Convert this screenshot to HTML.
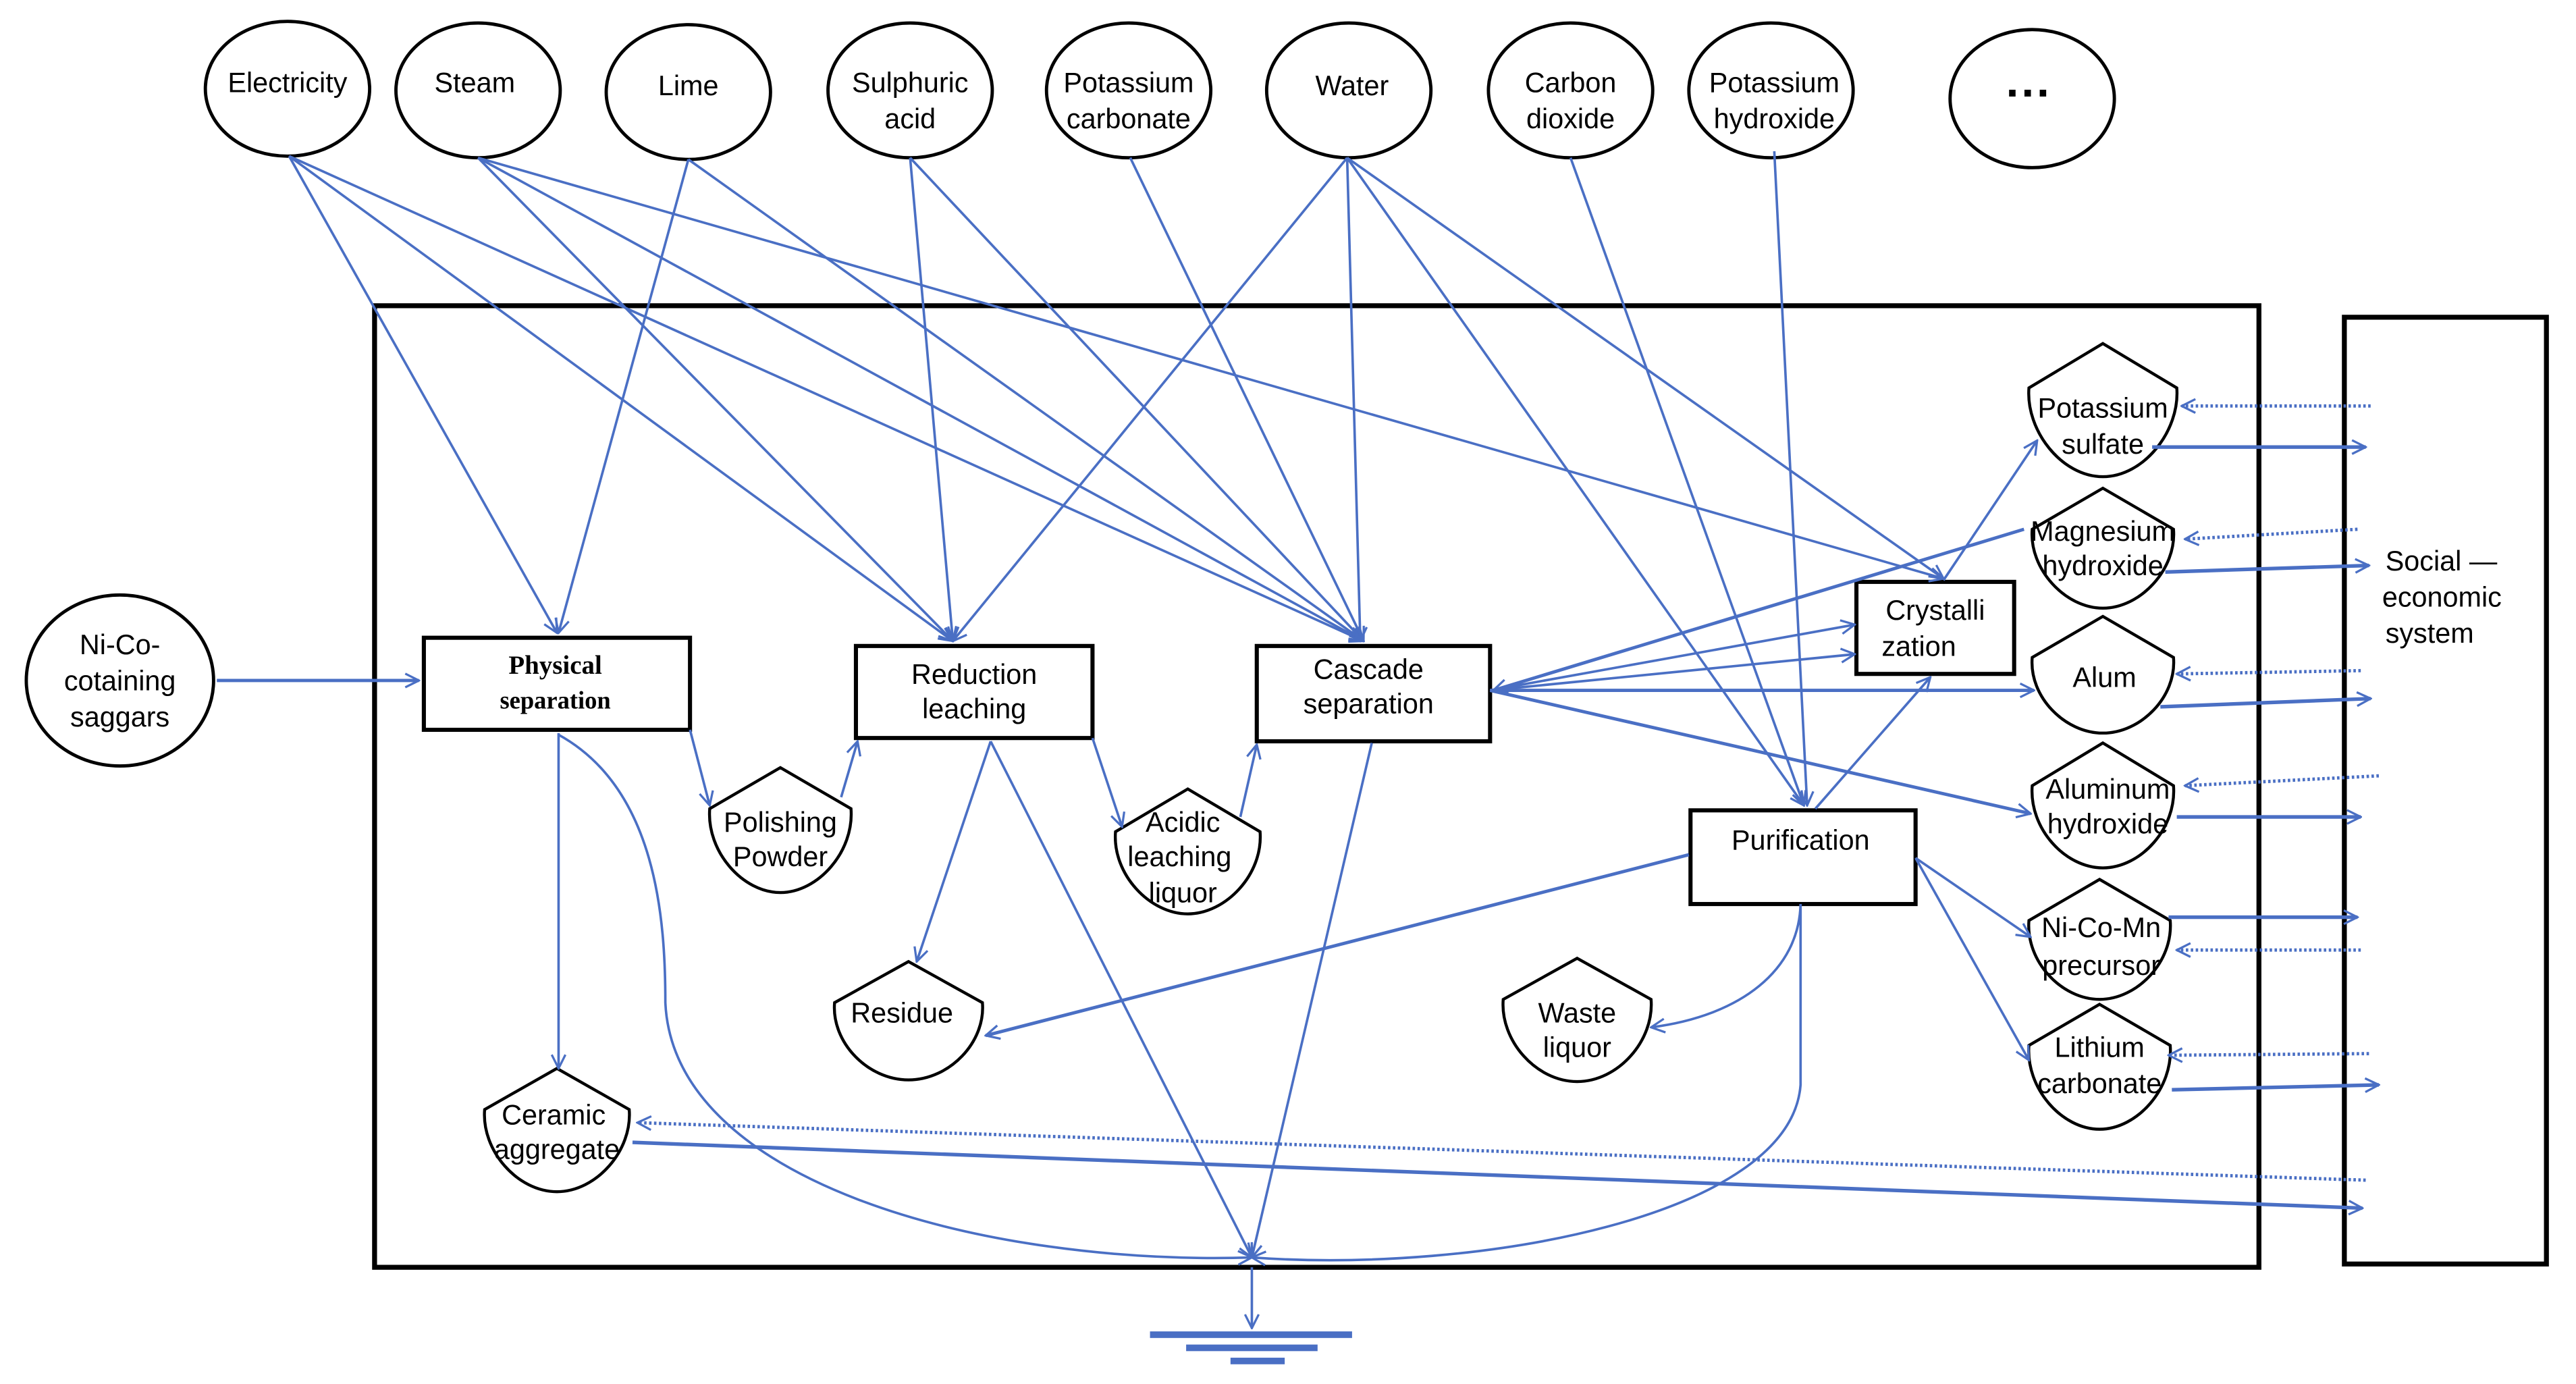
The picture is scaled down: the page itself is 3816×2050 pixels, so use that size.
<!DOCTYPE html>
<html><head><meta charset="utf-8"><style>html,body{margin:0;padding:0;background:#fff}svg{display:block}</style></head>
<body>
<svg width="3816" height="2050" viewBox="0 0 1568 842" preserveAspectRatio="none" xmlns="http://www.w3.org/2000/svg" font-family="Liberation Sans, sans-serif">
<defs>
<marker id="a" viewBox="0 0 12 12" refX="11" refY="6" markerWidth="10" markerHeight="10" markerUnits="userSpaceOnUse" orient="auto">
<path d="M1,1 L11,6 L1,11" fill="none" stroke="#4a6fc4" stroke-width="1.6"/></marker>
</defs>
<rect width="1568" height="842" fill="#fff"/>
<g fill="none" stroke="#000" stroke-width="2">
<ellipse cx="175" cy="54" rx="50" ry="41"/>
<ellipse cx="291" cy="55" rx="50" ry="41"/>
<ellipse cx="419" cy="56" rx="50" ry="41"/>
<ellipse cx="554" cy="55" rx="50" ry="41"/>
<ellipse cx="687" cy="55" rx="50" ry="41"/>
<ellipse cx="821" cy="55" rx="50" ry="41"/>
<ellipse cx="956" cy="55" rx="50" ry="41"/>
<ellipse cx="1078" cy="55" rx="50" ry="41"/>
<ellipse cx="1237" cy="60" rx="50" ry="42"/>
<ellipse cx="73" cy="414" rx="57" ry="52"/>
</g>
<rect x="228" y="186" width="1147" height="585" fill="none" stroke="#000" stroke-width="3"/>
<rect x="1427" y="193" width="123" height="576" fill="none" stroke="#000" stroke-width="3"/>
<g fill="#fff" stroke="#000" stroke-width="2.5">
<rect x="258" y="388" width="162" height="56"/>
<rect x="521" y="393" width="144" height="56"/>
<rect x="765" y="393" width="142" height="58"/>
<rect x="1130" y="354" width="96" height="56"/>
<rect x="1029" y="493" width="137" height="57"/>
</g>
<g fill="none" stroke="#000" stroke-width="1.8">
<path d="M1280,209 L1325,236 C1327,262 1305,290 1280,290 C1255,290 1233,262 1235,236 Z"/>
<path d="M1280,297 L1323,322 C1325,346 1303,370 1280,370 C1257,370 1235,346 1237,322 Z"/>
<path d="M1280,375 L1323,400 C1325,424 1303,446 1280,446 C1257,446 1235,424 1237,400 Z"/>
<path d="M1280,452 L1323,478 C1325,504 1303,528 1280,528 C1257,528 1235,504 1237,478 Z"/>
<path d="M1278,535 L1321,560 C1323,585 1301,608 1278,608 C1255,608 1233,585 1235,560 Z"/>
<path d="M1278,611 L1321,636 C1323,662 1301,687 1278,687 C1255,687 1233,662 1235,636 Z"/>
<path d="M475,467 L518,492 C520,518 498,543 475,543 C452,543 430,518 432,492 Z"/>
<path d="M723,480 L767,506 C769,532 746,556 723,556 C700,556 677,532 679,506 Z"/>
<path d="M553,585 L598,610 C600,634 578,657 553,657 C528,657 506,634 508,610 Z"/>
<path d="M960,583 L1005,608 C1007,633 985,658 960,658 C935,658 913,633 915,608 Z"/>
<path d="M339,650 L383,675 C385,700 363,725 339,725 C315,725 293,700 295,675 Z"/>
</g>
<g fill="none" stroke="#4a6fc4" stroke-width="1.5" marker-end="url(#a)">
<line x1="176" y1="95" x2="339" y2="385"/>
<line x1="176" y1="95" x2="580" y2="390"/>
<line x1="176" y1="95" x2="830" y2="390"/>
<line x1="291" y1="96" x2="580" y2="390"/>
<line x1="291" y1="96" x2="830" y2="390"/>
<line x1="291" y1="96" x2="1183" y2="352"/>
<line x1="419" y1="97" x2="340" y2="385"/>
<line x1="419" y1="97" x2="830" y2="390"/>
<line x1="554" y1="96" x2="580" y2="390"/>
<line x1="554" y1="96" x2="830" y2="390"/>
<line x1="688" y1="96" x2="830" y2="390"/>
<line x1="820" y1="96" x2="580" y2="390"/>
<line x1="820" y1="96" x2="828" y2="390"/>
<line x1="820" y1="96" x2="1183" y2="352"/>
<line x1="820" y1="96" x2="1098" y2="490"/>
<line x1="956" y1="96" x2="1098" y2="490"/>
<line x1="1080" y1="92" x2="1100" y2="490"/>
<line x1="132" y1="414" x2="255" y2="414" stroke-width="2"/>
<line x1="420" y1="444" x2="432" y2="490"/>
<line x1="512" y1="485" x2="522" y2="451"/>
<line x1="665" y1="449" x2="683" y2="503"/>
<line x1="755" y1="497" x2="765" y2="453"/>
<line x1="340" y1="446" x2="340" y2="650"/>
<line x1="603" y1="451" x2="558" y2="585"/>
<line x1="603" y1="451" x2="762" y2="765"/>
<line x1="835" y1="452" x2="762" y2="765"/>
<path d="M340,447 C400,480 405,560 405,610 C410,720 600,770 762,765"/>
<path d="M1096,550 L1096,660 C1090,740 900,775 762,765"/>
<path d="M1096,550 C1095,590 1060,618 1005,625"/>
<line x1="1028" y1="520" x2="600" y2="630" stroke-width="2"/>
<line x1="907" y1="420" x2="1129" y2="380"/>
<line x1="907" y1="420" x2="1129" y2="398"/>
<line x1="1232" y1="322" x2="909" y2="420" stroke-width="2"/>
<line x1="907" y1="420" x2="1238" y2="420" stroke-width="2"/>
<line x1="907" y1="420" x2="1236" y2="495" stroke-width="2"/>
<line x1="1183" y1="353" x2="1240" y2="268"/>
<line x1="1105" y1="492" x2="1175" y2="412"/>
<line x1="1166" y1="522" x2="1236" y2="570"/>
<line x1="1166" y1="522" x2="1235" y2="645"/>
<line x1="762" y1="771" x2="762" y2="808"/>
</g>
<g fill="none" stroke="#4a6fc4" stroke-width="2.2" marker-end="url(#a)">
<line x1="1310" y1="272" x2="1440" y2="272"/>
<line x1="1318" y1="348" x2="1442" y2="344"/>
<line x1="1315" y1="430" x2="1443" y2="425"/>
<line x1="1325" y1="497" x2="1437" y2="497"/>
<line x1="1320" y1="558" x2="1435" y2="558"/>
<line x1="1322" y1="663" x2="1448" y2="660"/>
<line x1="385" y1="695" x2="1438" y2="735"/>
</g>
<g fill="none" stroke="#4a6fc4" stroke-width="2" stroke-dasharray="1.5,1.5" marker-end="url(#a)">
<line x1="1443" y1="247" x2="1328" y2="247"/>
<line x1="1435" y1="322" x2="1330" y2="328"/>
<line x1="1437" y1="408" x2="1325" y2="410"/>
<line x1="1448" y1="472" x2="1330" y2="478"/>
<line x1="1437" y1="578" x2="1325" y2="578"/>
<line x1="1442" y1="641" x2="1320" y2="642"/>
<line x1="1440" y1="718" x2="388" y2="683"/>
</g>
<g fill="#4a6fc4">
<rect x="700" y="810" width="123" height="4"/>
<rect x="722" y="818" width="80" height="4"/>
<rect x="749" y="826" width="33" height="4"/>
</g>
<g font-size="17" text-anchor="middle" fill="#000">
<text x="175" y="56">Electricity</text>
<text x="289" y="56">Steam</text>
<text x="419" y="58">Lime</text>
<text x="554" y="56">Sulphuric</text><text x="554" y="78">acid</text>
<text x="687" y="56">Potassium</text><text x="687" y="78">carbonate</text>
<text x="823" y="58">Water</text>
<text x="956" y="56">Carbon</text><text x="956" y="78">dioxide</text>
<text x="1080" y="56">Potassium</text><text x="1080" y="78">hydroxide</text>
<text x="1235" y="66" font-size="28" font-weight="bold">···</text>
<text x="73" y="398">Ni-Co-</text><text x="73" y="420">cotaining</text><text x="73" y="442">saggars</text>
<text x="338" y="410" font-family="Liberation Serif, serif" font-weight="bold" font-size="16">Physical</text>
<text x="338" y="431" font-family="Liberation Serif, serif" font-weight="bold" font-size="15">separation</text>
<text x="593" y="416">Reduction</text><text x="593" y="437">leaching</text>
<text x="833" y="413">Cascade</text><text x="833" y="434">separation</text>
<text x="1178" y="377">Crystalli</text><text x="1168" y="399">zation</text>
<text x="1096" y="517">Purification</text>
<text x="1280" y="254">Potassium</text><text x="1280" y="276">sulfate</text>
<text x="1280" y="329">Magnesium</text><text x="1280" y="350">hydroxide</text>
<text x="1281" y="418">Alum</text>
<text x="1283" y="486">Aluminum</text><text x="1283" y="507">hydroxide</text>
<text x="1279" y="570">Ni-Co-Mn</text><text x="1279" y="593">precursor</text>
<text x="1278" y="643">Lithium</text><text x="1278" y="665">carbonate</text>
<text x="475" y="506">Polishing</text><text x="475" y="527">Powder</text>
<text x="720" y="506">Acidic</text><text x="718" y="527">leaching</text><text x="720" y="549">liquor</text>
<text x="549" y="622">Residue</text>
<text x="960" y="622">Waste</text><text x="960" y="643">liquor</text>
<text x="337" y="684">Ceramic</text><text x="339" y="705">aggregate</text>
<text x="1452" y="347" text-anchor="start">Social —</text>
<text x="1450" y="369" text-anchor="start">economic</text>
<text x="1452" y="391" text-anchor="start">system</text>
</g>
</svg>
</body></html>
